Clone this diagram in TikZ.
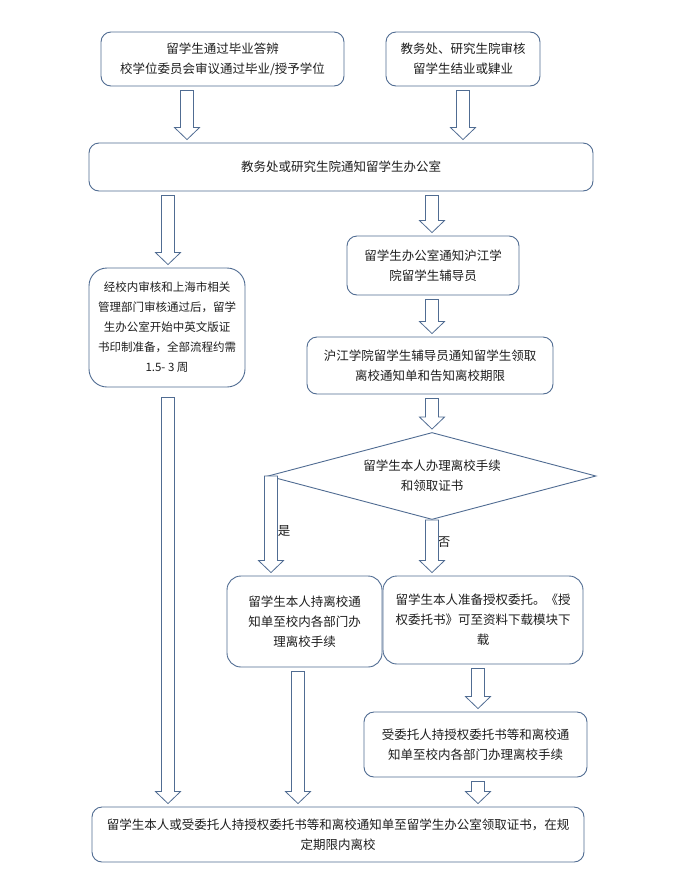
\documentclass[tikz,border=0pt]{standalone}
\usepackage{fontspec}
\setmainfont{Noto Sans CJK SC}
\usetikzlibrary{shapes.geometric,calc}
\definecolor{edge}{RGB}{80,108,146}
\definecolor{ink}{RGB}{30,30,30}
\tikzset{
  box/.style={draw=edge, line width=0.9pt, rounded corners=10pt, fill=white, align=center, text=ink, inner sep=2pt, font=\fontsize{12.5}{20}\selectfont},
  lbl/.style={text=ink, inner sep=1pt, font=\fontsize{12.5}{20}\selectfont},
  barrowsty/.style={draw=edge, line width=0.8pt, fill=white, line join=miter}
}
% block arrow: #2 = x position, #3 = from anchor, #4 = to anchor, #1 = start gap
\newcommand\barrow[4][4pt]{%
  \draw[barrowsty] let \p0=(#2,0), \p1=(#3), \p2=(#4) in
    (\x0-6.5pt,\y1-#1) -- (\x0+6.5pt,\y1-#1) -- (\x0+6.5pt,\y2+15pt) -- (\x0+12.5pt,\y2+15pt)
    -- (\x0,\y2+3pt) -- (\x0-12.5pt,\y2+15pt) -- (\x0-6.5pt,\y2+15pt) -- cycle;}
\begin{document}
\begin{tikzpicture}[x=1pt,y=-1pt]
\useasboundingbox[fill=white] (0,0) rectangle (674,892);

\node[box, minimum width=243pt, minimum height=54pt] (A) at (222.5,59)
  {留学生通过毕业答辨\\校学位委员会审议通过毕业/授予学位};
\node[box, minimum width=154pt, minimum height=54pt] (B) at (463,59)
  {教务处、研究生院审核\\留学生结业或肄业};
\node[box, minimum width=504pt, minimum height=48pt] (C) at (341,167)
  {教务处或研究生院通知留学生办公室};
\node[box, rounded corners=18pt, minimum width=156pt, minimum height=119pt, font=\fontsize{11.5}{20}\selectfont] (D) at (167,327.5)
  {经校内审核和上海市相关\\管理部门审核通过后，留学\\生办公室开始中英文版证\\书印制准备，全部流程约需\\1.5- 3 周};
\node[box, minimum width=172pt, minimum height=59pt] (E) at (433,265.5)
  {留学生办公室通知沪江学\\院留学生辅导员};
\node[box, minimum width=246pt, minimum height=57pt] (F) at (430,365.5)
  {沪江学院留学生辅导员通知留学生领取\\离校通知单和告知离校期限};
\node[diamond, draw=edge, line width=0.9pt, fill=white, minimum width=328pt, minimum height=87pt, inner sep=0pt] (dec) at (432,476) {};
\node[lbl, align=center] (dect) at (dec.center) {留学生本人办理离校手续\\和领取证书};
\node[box, rounded corners=14pt, minimum width=155pt, minimum height=91pt] (G) at (304.5,621.5)
  {留学生本人持离校通\\知单至校内各部门办\\理离校手续};
\node[box, rounded corners=14pt, minimum width=200pt, minimum height=88pt] (H) at (483,620)
  {留学生本人准备授权委托。《授\\权委托书》可至资料下载模块下\\载};
\node[box, minimum width=223pt, minimum height=65pt] (I) at (475.5,744.5)
  {受委托人持授权委托书等和离校通\\知单至校内各部门办理离校手续};
\node[box, minimum width=492pt, minimum height=55pt] (J) at (338,834.5)
  {留学生本人或受委托人持授权委托书等和离校通知单至留学生办公室领取证书，在规\\定期限内离校};

\node[lbl] (yes) at (284,531) {是};
\node[lbl] (no) at (444,542) {否};

\barrow{187}{A.south}{C.north}
\barrow{463}{B.south}{C.north}
\barrow{168}{C.south}{D.north}
\barrow{432}{C.south}{E.north}
\barrow{432}{E.south}{F.north}
\barrow{432}{F.south}{dec.north}
\barrow[0pt]{271}{dec.west}{G.north}
\barrow[0pt]{432}{dec.south}{H.north}
\barrow{478}{H.south}{I.north}
\barrow[10pt]{168}{D.south}{J.north}
\barrow{298}{G.south}{J.north}
\barrow{478}{I.south}{J.north}
\end{tikzpicture}
\end{document}
